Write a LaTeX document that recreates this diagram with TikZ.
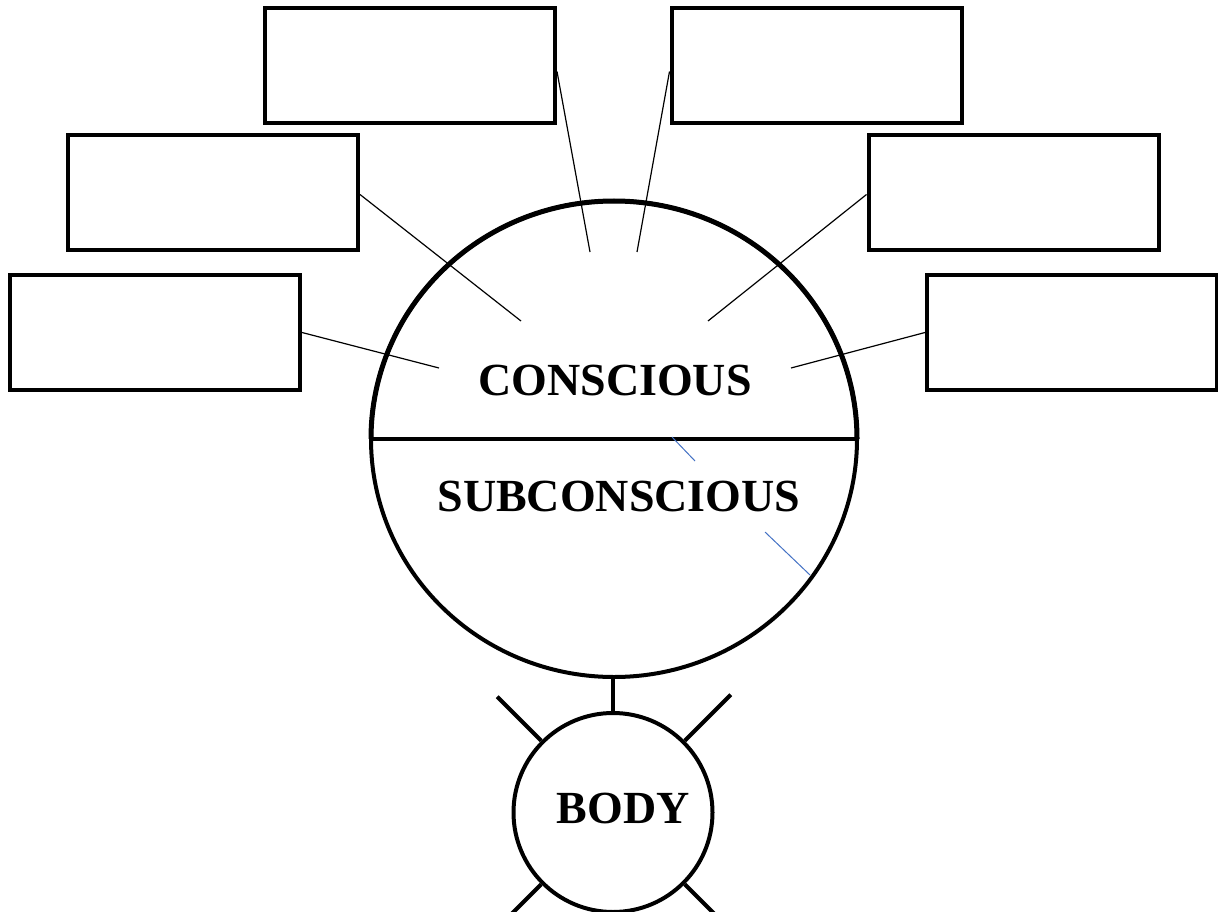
\documentclass[tikz,border=0pt]{standalone}
\usepackage{fontspec}
\setmainfont{Liberation Serif}
\usetikzlibrary{shapes.geometric,calc}
\definecolor{lineblue}{RGB}{68,114,196}
\begin{document}
\begin{tikzpicture}[x=1pt,y=-1pt,
  labelbox/.style={draw, rectangle, line width=4pt, minimum width=290pt, minimum height=115pt, inner sep=0pt},
  thin/.style={line width=1.2pt},
  bluethin/.style={line width=1pt, draw=lineblue},
  heavy/.style={line width=4pt},
  bigtext/.style={font=\fontsize{46}{50}\selectfont\bfseries, inner sep=0pt, anchor=base}]
\useasboundingbox (0,0) rectangle (1218,912);
% boxes
\node[labelbox] (b1) at (410,65.5) {};
\node[labelbox] (b2) at (213,192.5) {};
\node[labelbox] (b3) at (155,332.5) {};
\node[labelbox] (b4) at (816.5,65.5) {};
\node[labelbox] (b5) at (1013.5,192.5) {};
\node[labelbox] (b6) at (1072,332.5) {};
% mind circle
\node[ellipse, draw, line width=4pt, minimum width=486pt, minimum height=476pt, inner sep=0pt, outer sep=0pt] (mind) at (614,439) {};
\draw[line width=5pt] (mind.west) arc[start angle=180, end angle=0, x radius=243pt, y radius=238pt];
\draw[heavy] (mind.west) -- (mind.east);
\node[bigtext] (con) at (615,395) {CONSCIOUS};
\node[bigtext] (sub) at (619,511) {SUBCONSCIOUS};
% connector ends
\coordinate (e1) at (590,252);
\coordinate (e4) at (637,252);
\coordinate (e2) at (521,321);
\coordinate (e5) at (708,321);
\coordinate (e3) at (439,368);
\coordinate (e6) at (791,368);
\draw[thin] ([yshift=-6pt]b1.east) -- (e1);
\draw[thin] ([yshift=-6pt]b4.west) -- (e4);
\draw[thin] ([yshift=-2pt]b2.east) -- (e2);
\draw[thin] ([yshift=-2pt]b5.west) -- (e5);
\draw[thin] (b3.east) -- (e3);
\draw[thin] (b6.west) -- (e6);
% blue strokes
\coordinate (u1) at (672,437);
\coordinate (u2) at (695,461);
\coordinate (u3) at (765,532);
\coordinate (u4) at (810,575);
\draw[bluethin] (u1) -- (u2);
\draw[bluethin] (u3) -- (u4);
% body
\node[circle, draw, line width=4pt, minimum size=199pt, inner sep=0pt] (body) at (613,812.5) {};
\node[bigtext] (bodytext) at (623,823) {BODY};
\draw[heavy] (body.north) -- (body.north |- mind.south);
\coordinate (x1) at ($(body.135)+(-44,-44)$);
\coordinate (x2) at ($(body.45)+(46,-46)$);
\coordinate (x3) at ($(body.225)+(-40,40)$);
\coordinate (x4) at ($(body.315)+(40,40)$);
\draw[heavy] (body.135) -- (x1);
\draw[heavy] (body.45) -- (x2);
\draw[heavy] (body.225) -- (x3);
\draw[heavy] (body.315) -- (x4);
\end{tikzpicture}
\end{document}
